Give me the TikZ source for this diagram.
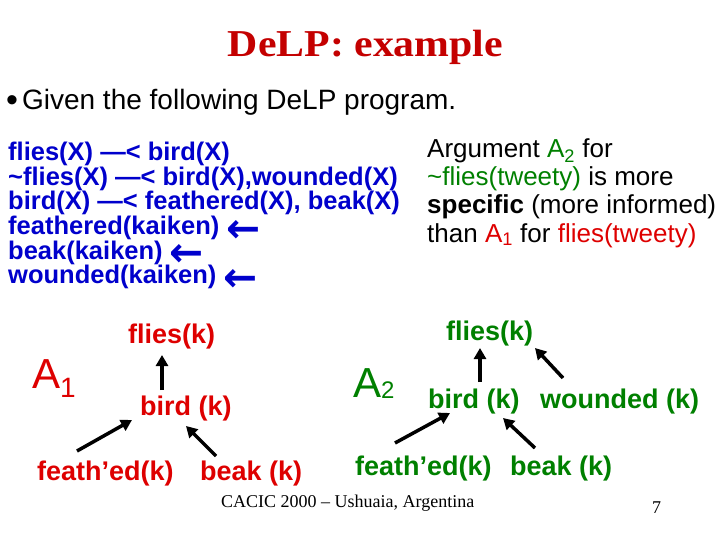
\documentclass[tikz,border=0pt]{standalone}
\usepackage{fontspec}
\setmainfont{Liberation Serif}
\newfontfamily\arial{Liberation Sans}
\newfontfamily\djv{DejaVu Sans}
\usetikzlibrary{arrows.meta}
\definecolor{ttl}{RGB}{196,0,0}
\definecolor{rd}{RGB}{222,0,0}
\definecolor{grn}{RGB}{0,128,0}
\definecolor{blu}{RGB}{0,0,204}
\newcommand{\larr}{\smash{\raisebox{-7.5pt}{\scalebox{1.6}{\djv\bfseries ←}}}}
\tikzstyle{code}=[anchor=base west,inner sep=0pt,text=blu,font=\arial\bfseries\fontsize{25.5}{23}\selectfont]
\tikzstyle{note}=[anchor=base west,inner sep=0pt,font=\arial\fontsize{26}{28}\selectfont]
\tikzstyle{rlab}=[anchor=base west,inner sep=0pt,text=rd,font=\arial\bfseries\fontsize{27}{30}\selectfont]
\tikzstyle{glab}=[rlab,text=grn]
\tikzstyle{bigA}=[anchor=base west,inner sep=0pt,font=\arial\fontsize{42}{44}\selectfont]
\tikzstyle{barr}=[-{Triangle[length=11pt,width=12pt]},line width=3.5pt]

\begin{document}
\begin{tikzpicture}[x=1pt,y=-1pt]
\fill[white] (0,0) rectangle (720,540);
\useasboundingbox (0,0) rectangle (720,540);
% title and bullet
\node[anchor=base,inner sep=0pt,text=ttl,font=\bfseries\fontsize{38}{40}\selectfont] (T) at (365.5,57) {\scalebox{1.1}[1]{DeLP: example}};
\node[anchor=base west,inner sep=0pt,font=\arial\fontsize{28}{30}\selectfont] (G) at (6,110) {\raisebox{-2pt}{\fontsize{34}{34}\selectfont\textbullet}\kern4pt Given the following DeLP program.};
% program
\foreach \ln [count=\i] in {%
 {flies(X) —< bird(X)},%
 {\textasciitilde flies(X) —< bird(X),wounded(X)},%
 {bird(X) —< feathered(X), beak(X)},%
 {feathered(kaiken) \larr},%
 {beak(kaiken) \larr},%
 {wounded(kaiken) \larr}}
  \node[code] (c\i) at (8,{136.5+24.5*\i}) {\ln};
% comment on the right
\node[note] (n1) at (427,158) {Argument {\color{grn}A\textsubscript{2}} for};
\node[note] (n2) at (427,186) {{\color{grn}\textasciitilde flies(tweety)} is more};
\node[note] (n3) at (427,214) {\textbf{specific} (more informed)};
\node[note] (n4) at (427,242) {than {\color{rd}A\textsubscript{1}} for {\color{rd}flies(tweety)}};
% argument A1
\node[bigA,text=rd] (A1) at (32,388) {A\raisebox{-9pt}{\fontsize{28}{30}\selectfont 1}};
\node[rlab] (f1) at (128,343) {flies(k)};
\node[rlab] (b1) at (140,415) {bird (k)};
\node[rlab] (e1) at (37,480) {feath’ed(k)};
\node[rlab] (k1) at (200,480) {beak (k)};
\draw[barr] ([xshift=22pt,yshift=25pt]b1.base west) -- ([xshift=34pt,yshift=-12pt]f1.base west);
\draw[barr] ([xshift=40pt,yshift=29pt]e1.base west) -- ([xshift=-8pt,yshift=-5pt]b1.base west);
\draw[barr] ([xshift=16pt,yshift=24pt]k1.base west) -- ([xshift=46pt,yshift=-11pt]b1.base west);
% argument A2
\node[bigA,text=grn] (A2) at (353,397) {A\raisebox{-1pt}{\fontsize{24}{26}\selectfont 2}};
\node[glab] (f2) at (446,340) {flies(k)};
\node[glab] (b2) at (428,408) {bird (k)};
\node[glab] (w2) at (540,408) {wounded (k)};
\node[glab] (e2) at (355,475) {feath’ed(k)};
\node[glab] (k2) at (510,475) {beak (k)};
\draw[barr] ([xshift=52pt,yshift=26pt]b2.base west) -- ([xshift=34pt,yshift=-8pt]f2.base west);
\draw[barr] ([xshift=23pt,yshift=30pt]w2.base west) -- ([xshift=89pt,yshift=-8pt]f2.base west);
\draw[barr] ([xshift=40pt,yshift=32pt]e2.base west) -- ([xshift=22pt,yshift=-5pt]b2.base west);
\draw[barr] ([xshift=25pt,yshift=27pt]k2.base west) -- ([xshift=75pt,yshift=-10pt]b2.base west);
% footer
\node[anchor=base west,inner sep=0pt,font=\fontsize{18}{20}\selectfont] (ft) at (221,507) {CACIC 2000 – Ushuaia, Argentina};
\node[anchor=base west,inner sep=0pt,font=\fontsize{18}{20}\selectfont] (pg) at (652,513) {7};
\end{tikzpicture}
\end{document}
